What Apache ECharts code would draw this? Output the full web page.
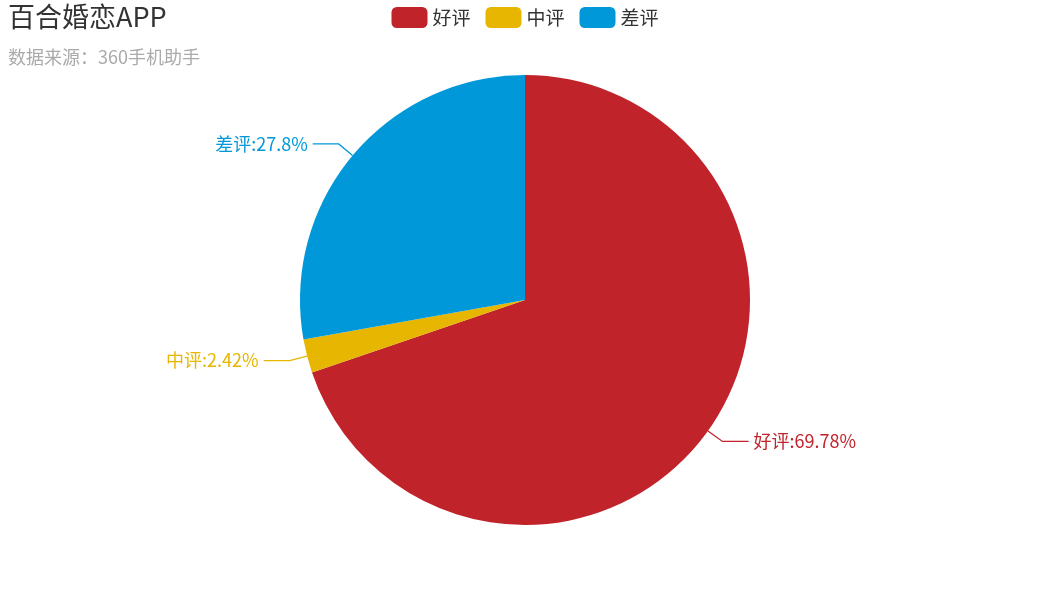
<!DOCTYPE html>
<html><head><meta charset="utf-8">
<script src="https://cdn.jsdelivr.net/npm/echarts@6/dist/echarts.min.js"></script>
<style>html,body{margin:0;padding:0;background:#fff}#c{width:1050px;height:600px}</style>
</head><body><div id="c"></div>
<script>
const categories = ['好评', '中评', '差评'];
const values = [69.78, 2.42, 27.8];
const colors = ['#c1232b', '#e6b600', '#0098d9'];
const chart = echarts.init(document.getElementById('c'));
const font = '"Noto Sans CJK SC", "Microsoft YaHei", sans-serif';
chart.setOption({
  color: colors,
  textStyle: { fontFamily: font },
  title: {
    text: '百合婚恋APP', subtext: '数据来源：360手机助手',
    left: 3, top: 0, padding: [3, 5],
    textStyle: { fontSize: 27, fontWeight: 'normal', color: '#333', fontFamily: font },
    subtextStyle: { fontSize: 18, color: '#aaa', fontFamily: font },
    itemGap: 18
  },
  legend: {
    data: categories, top: 2, left: 'center',
    itemWidth: 36, itemHeight: 21, itemGap: 15,
    icon: 'roundRect',
    textStyle: { fontSize: 19, color: '#333', fontFamily: font }
  },
  series: [{
    type: 'pie', center: ['50%', '50%'], radius: 225,
    data: categories.map((c, i) => ({ name: c, value: values[i], label: { color: colors[i] } })),
    label: { formatter: '{b}:{d}%', fontSize: 18, fontFamily: font },
    labelLine: { length: 18, length2: 26, lineStyle: { width: 1.3 } },
    itemStyle: { borderWidth: 0 }
  }]
});
</script></body></html>
